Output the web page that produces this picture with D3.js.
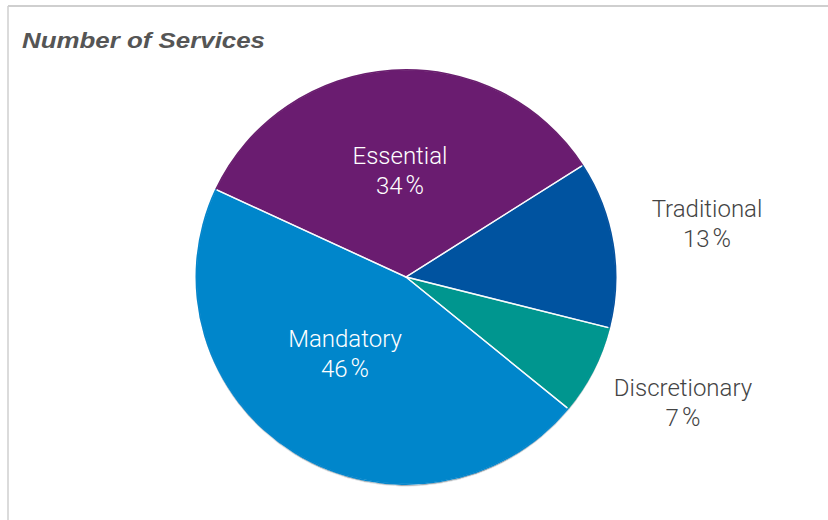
<!DOCTYPE html>
<html>
<head>
<meta charset="utf-8">
<script src="https://cdn.jsdelivr.net/npm/d3@7"></script>
<style>
  html, body { margin: 0; padding: 0; background: #fff; }
  svg { display: block; }
</style>
</head>
<body>
<svg id="chart" width="828" height="520"></svg>
<script>
// Share of services by category
const categories = ["Essential", "Traditional", "Discretionary", "Mandatory"];
const shares = [34, 13, 7, 46];
const sliceColors = ["#6a1f6f", "#0653a0", "#00968f", "#0686cb"];

const W = 828, H = 520;
const cx = 406, cy = 277, radius = 210;

const svg = d3.select("#chart");

// frame: top and left rules
svg.append("line").attr("x1", 8).attr("x2", W).attr("y1", 6).attr("y2", 6)
  .attr("stroke", "#cfcfcf").attr("stroke-width", 2);
svg.append("line").attr("x1", 8).attr("x2", 8).attr("y1", 6).attr("y2", H)
  .attr("stroke", "#cfcfcf").attr("stroke-width", 1.5);

svg.append("text")
  .attr("x", 22).attr("y", 48)
  .attr("font-family", "Liberation Sans, Arial, sans-serif")
  .attr("font-size", 22.5).attr("font-weight", "bold").attr("font-style", "italic")
  .attr("fill", "#555")
  .attr("textLength", 243).attr("lengthAdjust", "spacingAndGlyphs")
  .text("Number of Services");

const defs = svg.append("defs");
const shadow = defs.append("filter").attr("id", "pieShadow")
  .attr("x", "-10%").attr("y", "-10%").attr("width", "120%").attr("height", "120%");
shadow.append("feDropShadow").attr("dx", 0).attr("dy", 1.2)
  .attr("stdDeviation", 0.6).attr("flood-color", "#203040").attr("flood-opacity", 0.8);

const data = categories.map((c, i) => ({ name: c, value: shares[i], color: sliceColors[i] }));

const pie = d3.pie().value(d => d.value).sort(null)
  .startAngle(-65 * Math.PI / 180)
  .endAngle(295 * Math.PI / 180);
const arc = d3.arc().innerRadius(0).outerRadius(radius);

const g = svg.append("g").attr("transform", `translate(${cx},${cy}) scale(1,0.988)`);

g.append("g").attr("filter", "url(#pieShadow)")
  .selectAll("path").data(pie(data)).join("path")
  .attr("d", arc)
  .attr("fill", d => d.data.color);

// thin white separators between slices
g.selectAll("path.sep").data(pie(data)).join("path")
  .attr("class", "sep")
  .attr("d", d => arc(d))
  .attr("fill", "none")
  .attr("stroke", "#fff").attr("stroke-width", 1.4)
  .attr("stroke-opacity", 0.85);
// cover outer edge strokes with the slice colour
const edgeArc = d3.arc().innerRadius(radius - 1.2).outerRadius(radius + 0.5);
g.selectAll("path.edge").data(pie(data)).join("path")
  .attr("class", "edge")
  .attr("d", edgeArc)
  .attr("fill", d => d.data.color);

// label positions by slice
const labelPos = {
  "Essential": { x: 400, y: 164, fill: "#fff" },
  "Traditional": { x: 707, y: 217, fill: "#444" },
  "Discretionary": { x: 683, y: 396, fill: "#444" },
  "Mandatory": { x: 345, y: 347, fill: "#fff" }
};

const labels = svg.append("g")
  .attr("font-family", "Roboto, 'Liberation Sans', sans-serif")
  .attr("font-weight", 300)
  .attr("font-size", 24)
  .attr("text-anchor", "middle");

data.forEach(d => {
  const p = labelPos[d.name];
  labels.append("text").attr("x", p.x).attr("y", p.y).attr("fill", p.fill).text(d.name);
  const pct = labels.append("text").attr("x", p.x).attr("y", p.y + 30).attr("fill", p.fill);
  pct.append("tspan").text(d.value);
  pct.append("tspan").attr("dx", 3).attr("font-size", 25).text("%");
});
</script>
</body>
</html>
